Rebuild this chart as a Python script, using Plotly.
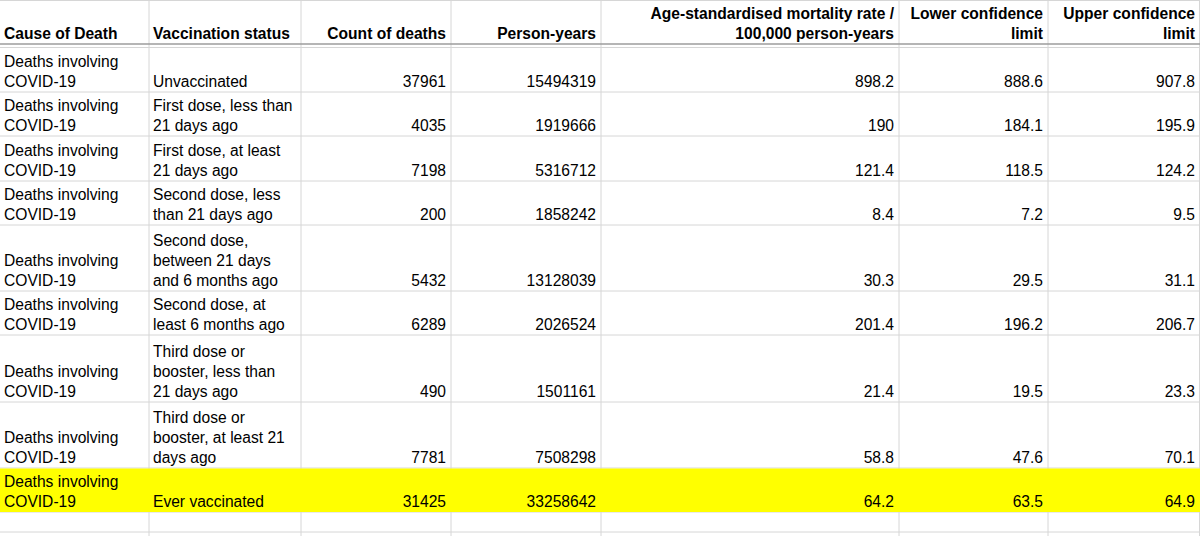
#!/usr/bin/env python3
"""
ONS deaths by vaccination status - spreadsheet style table.

Draws the table as text on hidden 1:1 pixel axes so the row heights,
bottom-aligned text and the grid look like the original spreadsheet.
"""

import plotly.graph_objects as go

# Table contents
HEADERS = [
    "Cause of Death",
    "Vaccination status",
    "Count of deaths",
    "Person-years",
    "Age-standardised mortality rate /<br>100,000 person-years",
    "Lower confidence<br>limit",
    "Upper confidence<br>limit",
]

CAUSE = ["Deaths involving<br>COVID-19"] * 9

VACCINATION_STATUS = [
    "Unvaccinated",
    "First dose, less than<br>21 days ago",
    "First dose, at least<br>21 days ago",
    "Second dose, less<br>than 21 days ago",
    "Second dose,<br>between 21 days<br>and 6 months ago",
    "Second dose, at<br>least 6 months ago",
    "Third dose or<br>booster, less than<br>21 days ago",
    "Third dose or<br>booster, at least 21<br>days ago",
    "Ever vaccinated",
]

COUNT_OF_DEATHS = [37961, 4035, 7198, 200, 5432, 6289, 490, 7781, 31425]
PERSON_YEARS = [15494319, 1919666, 5316712, 1858242, 13128039,
                2026524, 1501161, 7508298, 33258642]
MORTALITY_RATE = [898.2, 190, 121.4, 8.4, 30.3, 201.4, 21.4, 58.8, 64.2]
LOWER_CI = [888.6, 184.1, 118.5, 7.2, 29.5, 196.2, 19.5, 47.6, 63.5]
UPPER_CI = [907.8, 195.9, 124.2, 9.5, 31.1, 206.7, 23.3, 70.1, 64.9]

HIGHLIGHT_ROW = 8  # "Ever vaccinated"

# Layout (pixels)
WIDTH, HEIGHT = 1200, 536
COL_EDGES = [0, 149, 301, 451, 601, 899, 1048, 1200]
COL_ALIGN = ["left", "left", "right", "right", "right", "right", "right"]
HEADER_BOTTOM = 44
DATA_TOP = 48
LINE_PX = 22.1
FONT_SIZE = 15.6
FONT = "Liberation Sans, Arial, sans-serif"

COLORS = {
    'text': '#000000',
    'grid': '#d6d6d6',
    'header_line': '#9c9c9c',
    'highlight': '#ffff00',
}


def n_lines(text):
    return text.count("<br>") + 1


def build_rows():
    cols = [CAUSE, VACCINATION_STATUS, COUNT_OF_DEATHS, PERSON_YEARS,
            MORTALITY_RATE, LOWER_CI, UPPER_CI]
    return [[str(c[i]) for c in cols] for i in range(len(CAUSE))]


def row_bottoms(rows):
    bottoms = []
    y = DATA_TOP
    for row in rows:
        y += LINE_PX * max(n_lines(t) for t in row)
        bottoms.append(round(y))
    return bottoms


def text_trace(rows, bottoms, bold=False):
    """Bottom aligned cell text, left or right aligned per column."""
    xs, ys, texts, positions = [], [], [], []
    for row, bottom in zip(rows, bottoms):
        for j, t in enumerate(row):
            if COL_ALIGN[j] == "left":
                xs.append(COL_EDGES[j] + 4)
                positions.append("top right")
            else:
                xs.append(COL_EDGES[j + 1] - 5)
                positions.append("top left")
            # last baseline sits 0.25em above the anchor point
            ys.append(bottom - 4.5 + 0.25 * FONT_SIZE)
            texts.append(t)
    return go.Scatter(
        x=xs, y=ys, text=texts, mode="text", textposition=positions,
        textfont=dict(family=FONT, size=FONT_SIZE, color=COLORS['text'],
                      weight="bold" if bold else "normal"),
        hoverinfo="skip", showlegend=False, cliponaxis=False,
    )


def grid_shapes(bottoms):
    shapes = []
    line = dict(color=COLORS['grid'], width=1)
    for x in COL_EDGES[1:-1] + [WIDTH - 0.5]:
        shapes.append(dict(type="line", x0=x, x1=x, y0=0, y1=HEIGHT,
                           line=line, layer="below"))
    shapes.append(dict(type="line", x0=0, x1=WIDTH, y0=0.5, y1=0.5,
                       line=line, layer="below"))
    extra = bottoms[-1] + 20  # empty spreadsheet row below the data
    for y in bottoms + [extra]:
        shapes.append(dict(type="line", x0=0, x1=WIDTH, y0=y, y1=y,
                           line=line, layer="below"))
    # frozen header divider
    shapes.append(dict(type="line", x0=0, x1=WIDTH, y0=HEADER_BOTTOM,
                       y1=HEADER_BOTTOM,
                       line=dict(color=COLORS['header_line'], width=1.5),
                       layer="below"))
    shapes.append(dict(type="line", x0=0, x1=WIDTH, y0=DATA_TOP - 0.5,
                       y1=DATA_TOP - 0.5, line=line, layer="below"))
    # highlighted row
    top = bottoms[HIGHLIGHT_ROW - 1] if HIGHLIGHT_ROW else DATA_TOP
    shapes.append(dict(type="rect", x0=0, x1=WIDTH, y0=top + 0.5,
                       y1=bottoms[HIGHLIGHT_ROW], line_width=0,
                       fillcolor=COLORS['highlight'], layer="below"))
    return shapes


def main():
    rows = build_rows()
    bottoms = row_bottoms(rows)

    fig = go.Figure()
    fig.add_trace(text_trace([HEADERS], [HEADER_BOTTOM], bold=True))
    fig.add_trace(text_trace(rows, bottoms))

    fig.update_layout(
        width=WIDTH, height=HEIGHT,
        margin=dict(l=0, r=0, t=0, b=0),
        paper_bgcolor="white", plot_bgcolor="white",
        shapes=grid_shapes(bottoms),
        xaxis=dict(range=[0, WIDTH], visible=False, fixedrange=True),
        yaxis=dict(range=[HEIGHT, 0], visible=False, fixedrange=True),
    )
    # page body has a default 8px margin; drop it so the table sits at 0,0
    fig.write_html(
        "out.html",
        config={'displayModeBar': False},
        post_script="document.body.style.margin = '0';",
    )


if __name__ == "__main__":
    main()
